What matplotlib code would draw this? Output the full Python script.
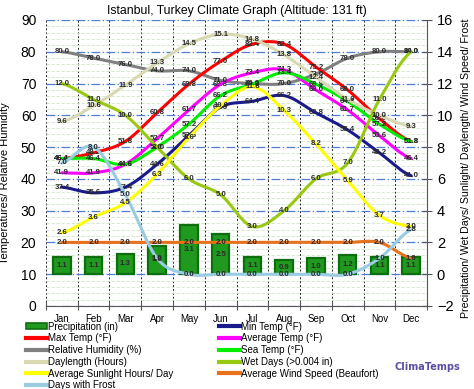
import matplotlib
matplotlib.use("Agg")
import matplotlib.pyplot as plt
import numpy as np
from matplotlib.patches import Patch
from matplotlib.lines import Line2D

plt.rcParams["font.family"] = ["Liberation Sans", "DejaVu Sans"]

months = ["Jan", "Feb", "Mar", "Apr", "May", "Jun",
          "Jul", "Aug", "Sep", "Oct", "Nov", "Dec"]

# left axis (deg F / %)
max_temp = [46.4, 48.2, 51.8, 60.8, 69.8, 77.0, 82.4, 82.4, 75.2, 68.0, 59.0, 51.8]
min_temp = [37.4, 35.6, 37.4, 44.6, 53.6, 62.6, 64.4, 66.2, 60.8, 55.4, 48.2, 41.0]
avg_temp = [41.9, 41.9, 44.6, 52.7, 61.7, 69.8, 73.4, 74.3, 68.0, 61.7, 53.6, 46.4]
sea_temp = [46.4, 46.4, 44.6, 50.0, 57.2, 66.2, 69.8, 73.4, 69.8, 64.4, 57.2, 51.8]
humidity = [80.0, 78.0, 76.0, 74.0, 74.0, 71.0, 70.0, 70.0, 73.0, 78.0, 80.0, 80.0]

# right axis
precip = [1.1, 1.1, 1.3, 1.8, 3.1, 2.5, 1.1, 0.9, 1.0, 1.2, 1.1, 1.1]
daylength = [9.6, 10.6, 11.9, 13.3, 14.5, 15.1, 14.8, 13.8, 12.4, 11.0, 10.0, 9.3]
wet_days = [12.0, 11.0, 10.0, 8.0, 6.0, 5.0, 3.0, 4.0, 6.0, 7.0, 11.0, 14.0]
sunlight = [2.6, 3.6, 4.5, 6.3, 8.6, 10.6, 11.8, 10.3, 8.2, 5.9, 3.7, 3.0]
wind = [2.0, 2.0, 2.0, 2.0, 2.0, 2.0, 2.0, 2.0, 2.0, 2.0, 2.0, 1.0]
frost = [7.0, 8.0, 5.0, 1.0, 0.0, 0.0, 0.0, 0.0, 0.0, 0.0, 1.0, 2.8]


def smooth(vals, n=24):
    """Catmull-Rom curve through the points, like Excel's smoothed lines."""
    y = np.asarray(vals, dtype=float)
    p = np.concatenate([[y[0]], y, [y[-1]]])
    xs, ys = [], []
    t = np.linspace(0, 1, n, endpoint=False)
    for i in range(len(y) - 1):
        p0, p1, p2, p3 = p[i], p[i + 1], p[i + 2], p[i + 3]
        ys.append(0.5 * (2 * p1 + (-p0 + p2) * t
                         + (2 * p0 - 5 * p1 + 4 * p2 - p3) * t ** 2
                         + (-p0 + 3 * p1 - 3 * p2 + p3) * t ** 3))
        xs.append(i + t)
    xs.append([len(y) - 1])
    ys.append([y[-1]])
    return np.concatenate(xs), np.concatenate(ys)


def draw(ax, vals, color, lw=2.2):
    xs, ys = smooth(vals)
    ax.plot(xs, ys, color=color, lw=lw, solid_capstyle="round", zorder=3)


def labels(ax, vals):
    for i, v in enumerate(vals):
        ax.text(i, v, f"{v:.1f}", ha="center", va="center", fontsize=5.6,
                fontweight="bold", color="#2a2a2a", zorder=6)


fig = plt.figure(figsize=(4.74, 3.89), dpi=100)
ax = fig.add_axes([0.097, 0.2134, 0.804, 0.7352])
ax2 = ax.twinx()

x = np.arange(len(months))

# grid
ax.set_ylim(0, 90)
ax.set_xlim(-0.5, 11.5)
ax.set_yticks(range(0, 91, 10))
ax.set_yticks(np.arange(0, 90, 2), minor=True)
ax.yaxis.grid(True, which="major", color="#4F7FD2", ls=(0, (7, 2, 1, 2)), lw=0.9)
ax.yaxis.grid(True, which="minor", color="#cfe6c6", ls=(0, (4, 2)), lw=0.6)
ax.set_xticks(np.arange(-0.5, 12, 1))
ax.set_xticklabels([])
ax.set_xticks(x, minor=True)
ax.set_xticklabels(months, minor=True, fontsize=7)
ax.xaxis.grid(True, which="major", color="#222222", ls=(0, (2, 2)), lw=0.7)
ax.tick_params(axis="x", which="major", direction="inout", length=6, color="#555555")
ax.tick_params(axis="x", which="minor", length=0, pad=6)
ax.tick_params(axis="y", which="major", length=0, labelsize=10, pad=7)
ax.tick_params(axis="y", which="minor", length=0)
ax.set_axisbelow(True)
for side in ("top", "left", "right"):
    ax.spines[side].set_visible(False)
ax.spines["bottom"].set_color("#555555")

ax2.set_ylim(-2, 16)
ax2.set_yticks(range(-2, 17, 2))
ax2.tick_params(axis="y", direction="inout", length=7, labelsize=10.5, color="#555555")
for side in ("top", "left", "bottom"):
    ax2.spines[side].set_visible(False)
ax2.spines["right"].set_color("#555555")

# precipitation bars
ax2.bar(x, precip, width=0.55, color="#1f9a1f", edgecolor="#0d6e0d", lw=1.6, zorder=2)
for i, v in enumerate(precip):
    ax2.text(i, v / 2, f"{v:.1f}", ha="center", va="center", fontsize=5.6,
             fontweight="bold", color="#2a2a2a", zorder=6)

# left series
draw(ax, humidity, "#808080")
draw(ax, max_temp, "#ff0000")
draw(ax, avg_temp, "#ff00ff")
draw(ax, sea_temp, "#00ee00")
draw(ax, min_temp, "#1a1a8c")

# right series
draw(ax2, daylength, "#d8d8b2")
draw(ax2, wet_days, "#99c811")
draw(ax2, sunlight, "#ffff00")
draw(ax2, wind, "#e8711c")
draw(ax2, frost, "#99cce0")

for vals in (humidity, max_temp, avg_temp, sea_temp, min_temp):
    labels(ax, vals)
for vals in (daylength, wet_days, sunlight, wind, frost):
    labels(ax2, vals)

ax.set_title("Istanbul, Turkey Climate Graph (Altitude: 131 ft)", fontsize=8.8, pad=4)
ax.set_ylabel("Temperatures/ Relative Humidity", fontsize=8)
ax.yaxis.set_label_coords(-0.095, 0.43)
ax2.set_ylabel("Precipitation/ Wet Days/ Sunlight/ Daylength/ Wind Speed/ Frost",
               fontsize=7.6)
ax2.yaxis.set_label_coords(1.09, 0.48)

handles = [
    Patch(facecolor="#1f9a1f", edgecolor="#0d6e0d", lw=1.2),
    Line2D([], [], color="#ff0000", lw=3),
    Line2D([], [], color="#808080", lw=3),
    Line2D([], [], color="#d8d8b2", lw=3),
    Line2D([], [], color="#ffff00", lw=3),
    Line2D([], [], color="#99cce0", lw=3),
    Line2D([], [], color="#1a1a8c", lw=3),
    Line2D([], [], color="#ff00ff", lw=3),
    Line2D([], [], color="#00ee00", lw=3),
    Line2D([], [], color="#99c811", lw=3),
    Line2D([], [], color="#e8711c", lw=3),
]
names = [
    "Precipitation (in)", "Max Temp (°F)", "Relative Humidity (%)",
    "Daylength (Hours)", "Average Sunlight Hours/ Day", "Days with Frost",
    "Min Temp (°F)", "Average Temp (°F)", "Sea Temp (°F)",
    "Wet Days (>0.004 in)", "Average Wind Speed (Beaufort)",
]
fig.legend(handles, names, ncol=2, loc="upper left", bbox_to_anchor=(0.045, 0.186),
           frameon=False, fontsize=7.0, handlelength=2.1, handleheight=0.6,
           handletextpad=0.1, labelspacing=0.18, columnspacing=4.8, borderpad=0)

fig.text(0.833, 0.048, "ClimaTemps", fontsize=7, fontweight="bold", color="#5a4fa0",
         family="DejaVu Sans")

fig.savefig("out.png", dpi=100)
